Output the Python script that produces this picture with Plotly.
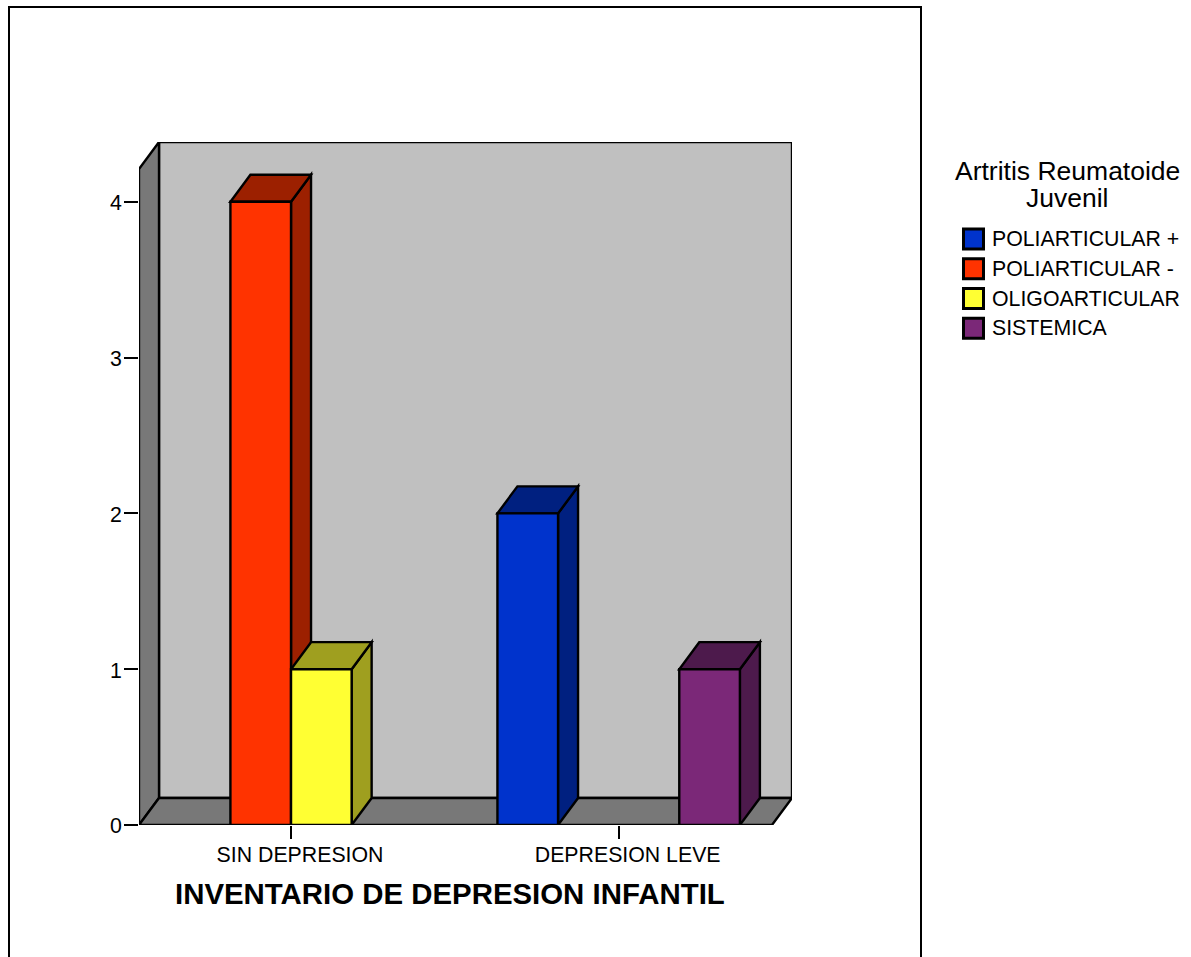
import plotly.graph_objects as go

# Chart data
categories = ["SIN DEPRESION", "DEPRESION LEVE"]
series_names = ["POLIARTICULAR +", "POLIARTICULAR -", "OLIGOARTICULAR", "SISTEMICA"]
poliarticular_pos = [None, 2]
poliarticular_neg = [4, None]
oligoarticular = [1, None]
sistemica = [None, 1]
y_ticks = [0, 1, 2, 3, 4]

front_colors = ["#0033CC", "#FF3300", "#FFFF33", "#7B2878"]
dark_colors = ["#002080", "#9C2000", "#9F9F1F", "#4D1A4C"]
WALL = "#C0C0C0"
FLOOR = "#787878"
FONT = "Liberation Sans"
LINE = 2.4

W, H = 1191, 957
all_values = [poliarticular_pos, poliarticular_neg, oligoarticular, sistemica]

# Extruded depth of the pseudo-3D box, in axis units
DEPTH_X = 20 / 327.5
DEPTH_Y = 27 / 155.75
X_MIN, X_FRONT_MAX = -0.464, 1.468
Y_FRONT_MAX = 4.21
BARGAP = 0.26
slot = (1 - BARGAP) / len(all_values)


def poly(points, fill, layer="below"):
    path = "M " + " L ".join(f"{x},{y}" for x, y in points) + " Z"
    return dict(type="path", path=path, xref="x", yref="y", layer=layer,
                fillcolor=fill, line=dict(color="black", width=LINE))


shapes = [
    # Back wall, left wall and floor
    poly([(X_MIN + DEPTH_X, DEPTH_Y), (X_FRONT_MAX + DEPTH_X, DEPTH_Y),
          (X_FRONT_MAX + DEPTH_X, Y_FRONT_MAX + DEPTH_Y), (X_MIN + DEPTH_X, Y_FRONT_MAX + DEPTH_Y)], WALL),
    poly([(X_MIN, 0), (X_MIN + DEPTH_X, DEPTH_Y), (X_MIN + DEPTH_X, Y_FRONT_MAX + DEPTH_Y),
          (X_MIN, Y_FRONT_MAX)], FLOOR),
    poly([(X_MIN, 0), (X_FRONT_MAX, 0), (X_FRONT_MAX + DEPTH_X, DEPTH_Y), (X_MIN + DEPTH_X, DEPTH_Y)], FLOOR),
]

# Side and top faces of each bar, worked out from the bar values, left to right
faces = []
for s, values in enumerate(all_values):
    for c, v in enumerate(values):
        if v is not None:
            faces.append((c + (s - 2) * slot, v, dark_colors[s]))
for left, v, dark in sorted(faces, key=lambda f: f[0]):
    right = left + slot
    shapes.append(poly([(right, 0), (right + DEPTH_X, DEPTH_Y), (right + DEPTH_X, v + DEPTH_Y), (right, v)], dark))
    shapes.append(poly([(left, v), (right, v), (right + DEPTH_X, v + DEPTH_Y), (left + DEPTH_X, v + DEPTH_Y)], dark))

# Outer frame, open along the bottom edge
shapes.append(dict(type="path", xref="paper", yref="paper",
                   path=f"M {9/W},0 L {9/W},{1-7/H} L {921/W},{1-7/H} L {921/W},0",
                   line=dict(color="black", width=2)))

fig = go.Figure()
for name, values, color in zip(series_names, all_values, front_colors):
    fig.add_trace(go.Bar(name=name, x=[0, 1], y=values,
                         marker=dict(color=color, line=dict(color="black", width=LINE))))

# Key: swatches and labels on their own hidden axes
legend_rows = [0, 1, 2, 3]
fig.add_trace(go.Scatter(x=[0] * 4, y=legend_rows, mode="markers", xaxis="x2", yaxis="y2",
                         marker=dict(symbol="square", size=20, color=front_colors, line=dict(color="black", width=3))))
fig.add_trace(go.Scatter(x=[18.5] * 4, y=legend_rows, mode="text", xaxis="x2", yaxis="y3",
                         text=series_names, textposition="middle right",
                         textfont=dict(family=FONT, size=21.3, color="black")))

fig.update_layout(
    width=W, height=H, margin=dict(l=0, r=0, t=0, b=0),
    paper_bgcolor="white", plot_bgcolor="rgba(0,0,0,0)",
    barmode="group", bargap=BARGAP, bargroupgap=0, showlegend=False,
    font=dict(family=FONT, size=21.3, color="black"),
    shapes=shapes,
    xaxis=dict(domain=[139 / W, 792 / W], range=[X_MIN, X_FRONT_MAX + DEPTH_X], tickmode="array",
               tickvals=[0, 1], ticktext=categories, ticks="outside", ticklen=13, tickwidth=2.4,
               tickcolor="black", ticklabelshift=9, ticklabelstandoff=-3, showgrid=False, zeroline=False,
               showline=False, automargin=False),
    yaxis=dict(domain=[1 - 825 / H, 1 - 142 / H], range=[0, Y_FRONT_MAX + DEPTH_Y], tickmode="array",
               tickvals=y_ticks, ticks="outside", ticklen=14, tickwidth=2.4, tickcolor="black",
               ticklabelshift=1, ticklabelstandoff=-2,
               showgrid=False, zeroline=False, showline=False, automargin=False),
    xaxis2=dict(domain=[950 / W, 1191 / W], range=[-23.5, 217.5], visible=False, automargin=False),
    yaxis2=dict(domain=[1 - 343 / H, 1 - 224 / H], range=[3.5, -0.5], visible=False, automargin=False),
    yaxis3=dict(domain=[1 - 345 / H, 1 - 226 / H], range=[3.5, -0.5], visible=False, automargin=False),
    annotations=[
        dict(text="<b>INVENTARIO DE DEPRESION INFANTIL</b>", x=450 / W, y=1 - 893 / H, xref="paper", yref="paper",
             showarrow=False, xanchor="center", yanchor="middle", font=dict(family=FONT, size=29.4, color="black")),
        dict(text="Artritis Reumatoide", x=1067 / W, y=1 - 171 / H, xref="paper", yref="paper",
             showarrow=False, xanchor="center", yanchor="middle",
             font=dict(family=FONT, size=26.5, color="black")),
        dict(text="Juvenil", x=1067 / W, y=1 - 198 / H, xref="paper", yref="paper",
             showarrow=False, xanchor="center", yanchor="middle",
             font=dict(family=FONT, size=26.5, color="black")),
    ],
)

fig.write_html("out.html")
